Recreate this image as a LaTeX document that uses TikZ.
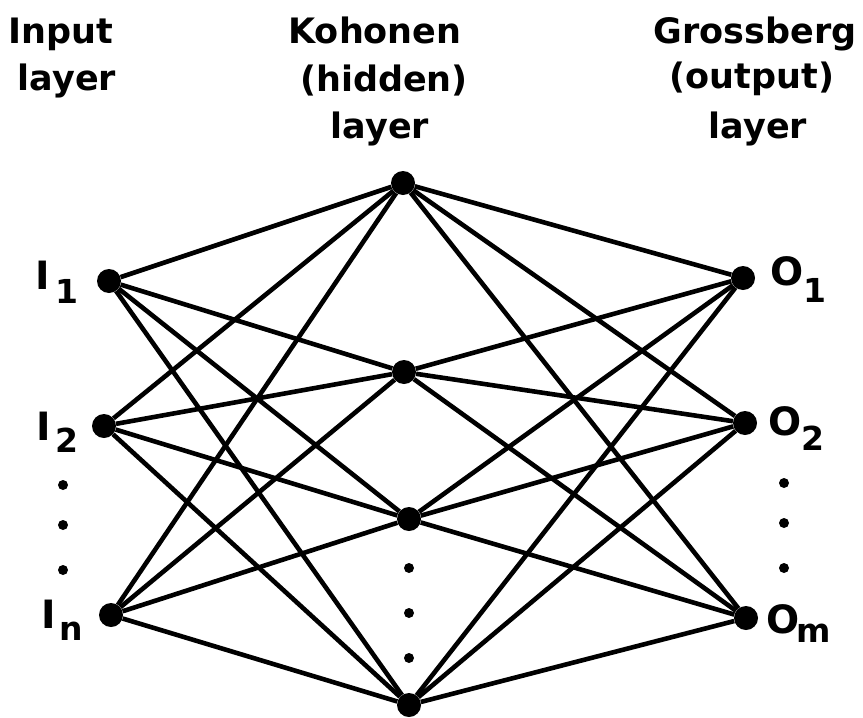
\documentclass[tikz,border=0pt]{standalone}
\usepackage{fontspec}
\setmainfont{DejaVu Sans}
% letter, subscript, drop of the subscript, gap before it
\newcommand\nodelabel[4]{#1\hspace{#4pt}\raisebox{-#3pt}{\fontsize{33}{33}\selectfont #2}}
\begin{document}
\begin{tikzpicture}[x=1pt,y=-1pt,
  unit/.style={circle,fill=black,inner sep=0pt,minimum size=24pt},
  gap/.style={circle,fill=black,inner sep=0pt,minimum size=10pt},
  edge/.style={line width=4.6pt},
  head/.style={font=\fontsize{35}{40}\selectfont\bfseries,inner sep=0pt,anchor=base},
  tag/.style={font=\fontsize{39}{40}\selectfont\bfseries,inner sep=0pt,anchor=base west}]
\useasboundingbox (0,0) rectangle (863,718);

% layer headings
\node[head] (inA) at (61,43) {Input};
\node[head] (inB) at (67,90) {layer};
\node[head] (hidA) at (375,43) {Kohonen};
\node[head] (hidB) at (384,91) {(hidden)};
\node[head] (hidC) at (380,138) {layer};
\node[head] (outA) at (755,43) {Grossberg};
\node[head] (outB) at (752,88) {(output)};
\node[head] (outC) at (758,138) {layer};

% units
\node[unit] (I1) at (109,281) {};
\node[unit] (I2) at (104,426) {};
\node[unit] (In) at (111,615) {};
\node[unit] (H1) at (403,183) {};
\node[unit] (H2) at (404,372) {};
\node[unit] (H3) at (409,519) {};
\node[unit] (H4) at (409,705) {};
\node[unit] (O1) at (743,278) {};
\node[unit] (O2) at (745,423) {};
\node[unit] (Om) at (746,618) {};

% full connections between consecutive layers
\foreach \a in {I1,I2,In}
  \foreach \b in {H1,H2,H3,H4}
    \draw[edge] (\a) -- (\b);
\foreach \a in {H1,H2,H3,H4}
  \foreach \b in {O1,O2,Om}
    \draw[edge] (\a) -- (\b);

% unit labels
\node[tag] (tI1) at (35.5,289) {\nodelabel{I}{1}{14}{5.5}};
\node[tag] (tI2) at (36.5,440) {\nodelabel{I}{2}{12}{4.5}};
\node[tag] (tIn) at (41.5,628) {\nodelabel{I}{n}{12}{3}};
\node[tag] (tO1) at (770,285) {\nodelabel{O}{1}{17}{0}};
\node[tag] (tO2) at (768,435) {\nodelabel{O}{2}{15}{0}};
\node[tag] (tOm) at (766,633) {\nodelabel{O}{m}{9}{-3}};

% ellipsis dots
\node[gap] (dI1) at (63,485) {};
\node[gap] (dI2) at (63,525) {};
\node[gap] (dI3) at (63,570) {};
\node[gap] (dH1) at (409,568) {};
\node[gap] (dH2) at (409,613) {};
\node[gap] (dH3) at (409,658) {};
\node[gap] (dO1) at (784,483) {};
\node[gap] (dO2) at (784,523) {};
\node[gap] (dO3) at (784,568) {};
\end{tikzpicture}
\end{document}
